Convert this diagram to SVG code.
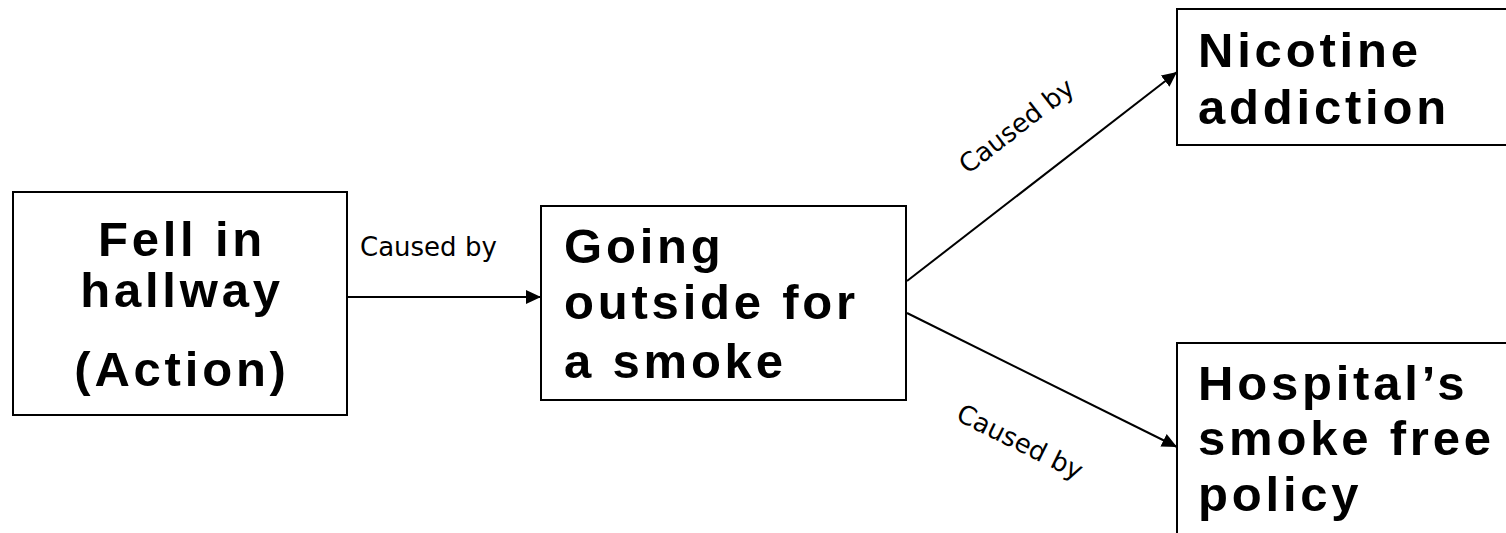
<svg xmlns="http://www.w3.org/2000/svg" width="1506" height="533" viewBox="0 0 1506 533">
  <style>
    .box { fill: #ffffff; stroke: #000000; stroke-width: 2; }
    .node { font-family: "Liberation Sans", Arial, sans-serif; font-weight: bold; font-size: 49px; letter-spacing: 3.8px; fill: #000000; }
    .edge { stroke: #000000; stroke-width: 2; fill: none; marker-end: url(#arrow); }
    .label { font-family: "DejaVu Sans", Verdana, sans-serif; font-size: 26px; fill: #000000; }
  </style>
  <defs>
    <marker id="arrow" markerUnits="userSpaceOnUse" markerWidth="16" markerHeight="14" refX="15" refY="7" orient="auto">
      <path d="M0,0 L15,7 L0,14 Z" fill="#000000"/>
    </marker>
  </defs>
  <rect width="1506" height="533" fill="#ffffff"/>

  <g id="connectors">
    <line class="edge" x1="347" y1="297" x2="541" y2="297"/>
    <line class="edge" x1="907" y1="281" x2="1177" y2="72"/>
    <line class="edge" x1="907" y1="313" x2="1177" y2="447"/>
    <text class="label" x="360" y="256">Caused by</text>
    <text class="label" text-anchor="middle" transform="translate(1022,133) rotate(-37.6)">Caused by</text>
    <text class="label" text-anchor="middle" transform="translate(1016,450) rotate(26.4)">Caused by</text>
  </g>

  <g id="fell-in-hallway">
    <rect class="box" x="13" y="192" width="334" height="223"/>
    <text class="node" text-anchor="middle" x="182" y="256">Fell in</text>
    <text class="node" text-anchor="middle" x="182" y="307">hallway</text>
    <text class="node" text-anchor="middle" x="182" y="386">(Action)</text>
  </g>

  <g id="going-outside">
    <rect class="box" x="541" y="206" width="365" height="194"/>
    <text class="node" x="564" y="263">Going</text>
    <text class="node" x="564" y="319">outside for</text>
    <text class="node" x="564" y="378">a smoke</text>
  </g>

  <g id="nicotine-addiction">
    <rect class="box" x="1177" y="9" width="340" height="136"/>
    <text class="node" x="1198" y="67">Nicotine</text>
    <text class="node" x="1198" y="124">addiction</text>
  </g>

  <g id="smoke-free-policy">
    <rect class="box" x="1177" y="343" width="340" height="200"/>
    <text class="node" x="1198" y="400">Hospital’s</text>
    <text class="node" x="1198" y="455">smoke free</text>
    <text class="node" x="1198" y="511">policy</text>
  </g>
</svg>
